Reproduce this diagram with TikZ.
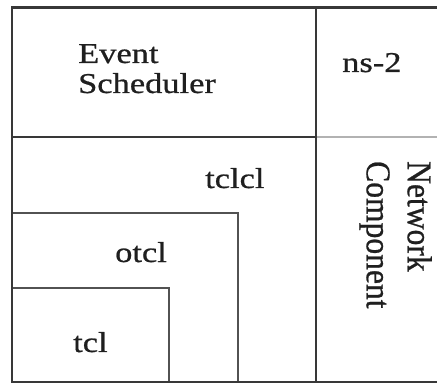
\documentclass[tikz,border=0pt]{standalone}
\usepackage{fontspec}
\setmainfont{Liberation Serif}
\newfontfamily\hfont[FakeStretch=1.2,FakeBold=0.7]{Liberation Serif}
\newfontfamily\vfont[FakeStretch=0.91,FakeBold=0.7]{Liberation Serif}
\begin{document}
\begin{tikzpicture}[x=1pt,y=-1pt,
  outer/.style={draw=black!78,line width=2.4pt},
  inner/.style={draw=black!68,line width=2pt},
  faint/.style={draw=black!30,line width=1.2pt},
  lbl/.style={inner sep=0pt,font=\hfont\fontsize{28.7}{30}\selectfont,text=black!88},
  vlbl/.style={inner sep=0pt,font=\vfont\fontsize{34.7}{41}\selectfont,text=black!88}]
\useasboundingbox (0,0) rectangle (437,385);
\fill[white] (0,0) rectangle (437,385);
% nested boxes
\draw[inner] (12,213) -- (238,213) -- (238,382);
\draw[inner] (12,288) -- (169,288) -- (169,382);
\draw[faint] (316,137) -- (437,137);
\draw[outer] (12,137) -- (316,137);
\draw[outer] (437,7.5) -- (12,7.5) -- (12,382) -- (437,382);
\draw[outer] (316,7.5) -- (316,382);
% labels
\node[lbl,align=left,anchor=north west] (es) at (78,44) {Event\\Scheduler};
\node[lbl,anchor=base west] (ns) at (342,72) {ns-2};
\node[lbl,anchor=base west] (tclcl) at (205,188) {tclcl};
\node[lbl,anchor=base west] (otcl) at (115,262) {otcl};
\node[lbl,anchor=base west] (tcl) at (73,352) {tcl};
\node[vlbl,align=left,rotate=-90,anchor=north west] (nc) at (432,161) {Network\\Component};
\end{tikzpicture}
\end{document}
